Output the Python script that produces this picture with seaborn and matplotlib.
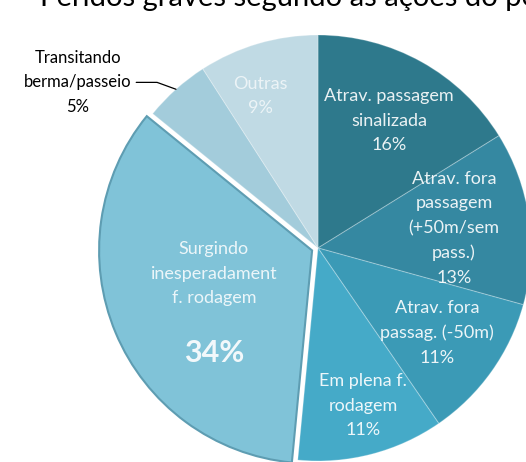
import numpy as np
import matplotlib
matplotlib.use("Agg")
import matplotlib.pyplot as plt
import seaborn as sns

# data (clockwise from 12 o'clock)
categories = ["Atrav. passagem\nsinalizada",
              "Atrav. fora\npassagem\n(+50m/sem\npass.)",
              "Atrav. fora\npassag. (-50m)",
              "Em plena f.\nrodagem",
              "Surgindo\ninesperadament\nf. rodagem",
              "Transitando\nberma/passeio",
              "Outras"]
values = [16, 13, 11, 11, 34, 5, 9]
colors = ["#2E798C", "#3588A1", "#3B9AB6", "#45AAC8", "#80C3D8", "#A3CCDB", "#C0DAE4"]
explode = [0, 0, 0, 0, 0.03, 0, 0]
# label placement: radial distance and angle shift (deg) from the slice middle
label_r = [0.685, 0.645, 0.685, 0.77, 0.5, 1.37, 0.764]
label_dtheta = [0, 0, 0, 1.5, 0, 13.6, 4.5]

title = "Feridos graves segundo as ações do peão"

sns.set_theme(style="white")
plt.rcParams["font.family"] = ["Lato", "DejaVu Sans"]

W, H, dpi = 526, 462, 100
fig = plt.figure(figsize=(W / dpi, H / dpi), dpi=dpi)
ax = fig.add_axes([0, 0, 1, 1])

wedges, _ = ax.pie(values, colors=colors, startangle=90, counterclock=False,
                   explode=explode, radius=1,
                   wedgeprops=dict(edgecolor=(1, 1, 1, 0.25), linewidth=0.8))
# darker rim on the pulled-out slice
wedges[4].set_edgecolor("#5E9DB2")
wedges[4].set_linewidth(1.5)

# pie centre at pixel (318, 248), radius 213 px
cx, cy, R = 318, 248, 213
ax.set_xlim(-cx / R, (W - cx) / R)
ax.set_ylim((cy - H) / R, cy / R)
ax.set_aspect("auto")
ax.axis("off")

for i, (w, lab, v) in enumerate(zip(wedges, categories, values)):
    mid_deg = (w.theta1 + w.theta2) / 2
    mid = np.deg2rad(mid_deg + label_dtheta[i])
    ox, oy = w.center
    x = ox + label_r[i] * np.cos(mid)
    y = oy + label_r[i] * np.sin(mid)
    if i == 4:
        ax.text(x, y + 0.085, lab, ha="center", va="center", color="white",
                fontsize=13, alpha=0.85, linespacing=1.65)
        ax.text(x, y - 0.29, f"{v}%", ha="center", va="center", color="white",
                fontsize=22, fontweight="bold", alpha=0.9)
    elif i == 5:
        ex = ox + np.cos(np.deg2rad(mid_deg))
        ey = oy + np.sin(np.deg2rad(mid_deg))
        ax.annotate(f"{lab}\n{v}%", xy=(ex, ey), xytext=(x, y),
                    ha="center", va="center", color="black", fontsize=12,
                    linespacing=1.65,
                    arrowprops=dict(arrowstyle="-", color="black", lw=0.9,
                                    relpos=(1, 0.5), shrinkA=1, shrinkB=0,
                                    connectionstyle="angle,angleA=0,angleB=-20,rad=0"))
    else:
        ax.text(x, y, f"{lab}\n{v}%", ha="center", va="center", color="white",
                fontsize=13, alpha=0.9 if i < 6 else 0.7, linespacing=1.65)

fig.text(40 / W, 1 - 6 / H, title, ha="left", va="baseline",
         fontsize=21, color="black")

fig.savefig("out.png", dpi=dpi)
